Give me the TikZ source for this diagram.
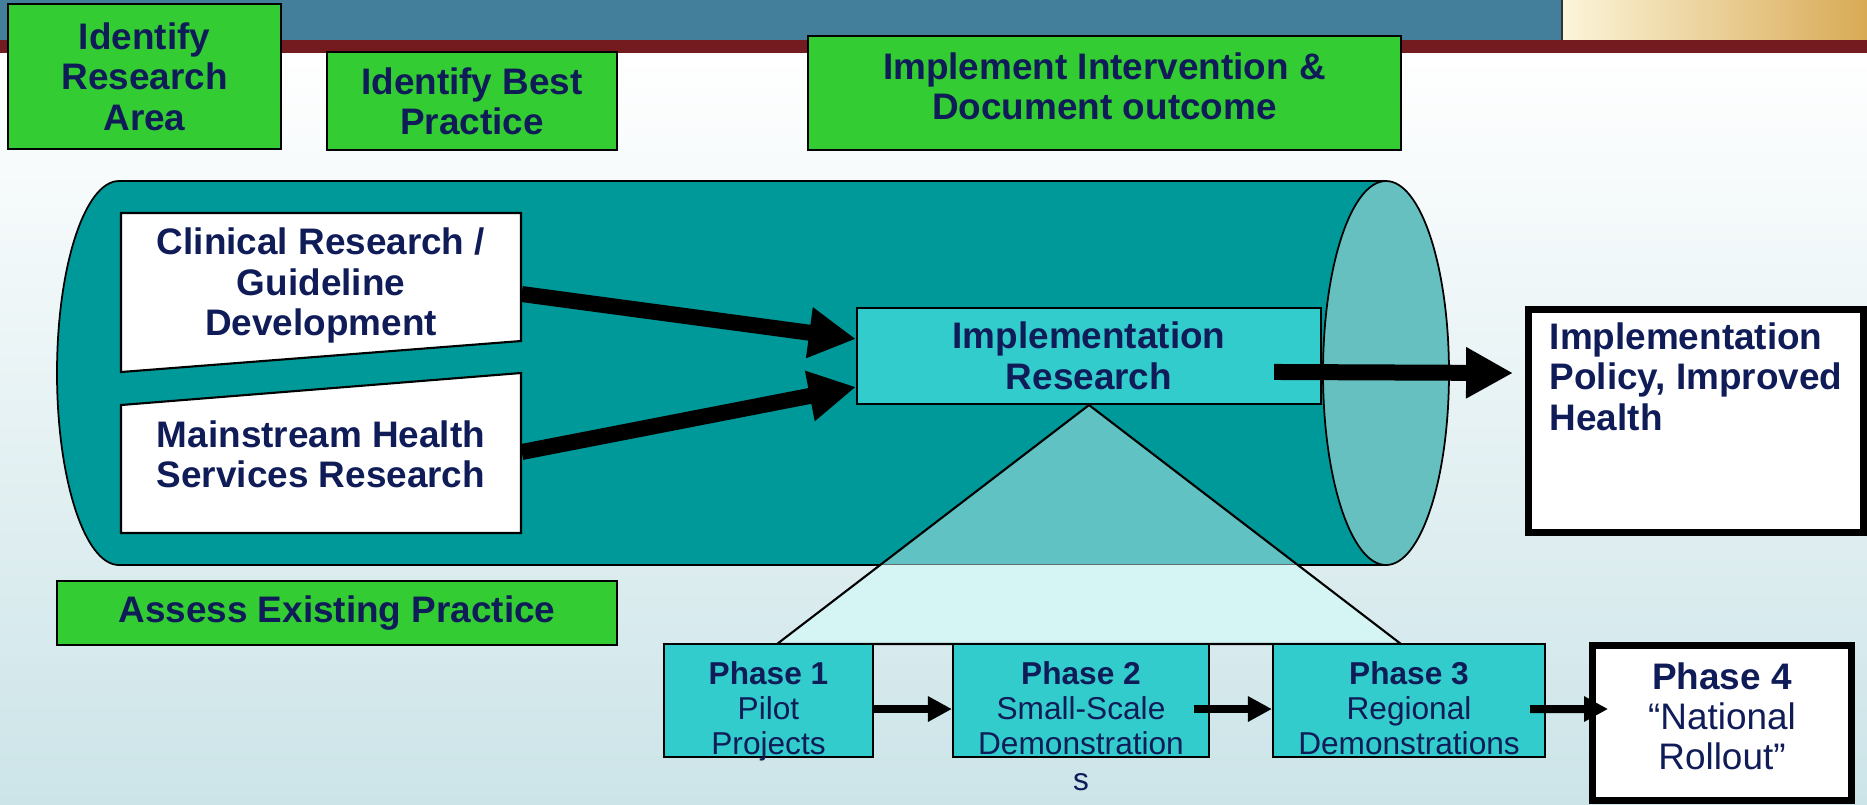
\documentclass[tikz,border=0pt]{standalone}
\usepackage{fontspec}
\setmainfont{Liberation Sans}
\usetikzlibrary{arrows.meta,calc}

\definecolor{navy}{RGB}{15,28,88}
\definecolor{bannerblue}{RGB}{67,126,154}
\definecolor{bannerred}{RGB}{115,27,31}
\definecolor{goldlight}{RGB}{252,245,218}
\definecolor{golddark}{RGB}{216,170,86}
\definecolor{bgbottom}{RGB}{204,228,232}
\definecolor{stepgreen}{RGB}{51,204,51}
\definecolor{tubeteal}{RGB}{0,153,153}
\definecolor{capteal}{RGB}{102,192,192}
\definecolor{boxcyan}{RGB}{51,204,204}
\definecolor{funnellight}{RGB}{213,245,245}

\begin{document}
\begin{tikzpicture}[
		x=1cm, y=-1cm,
		greenbox/.style={draw=black, line width=0.5pt, fill=stepgreen, text=navy, align=center, font=\fontsize{10.5}{11.5}\selectfont\bfseries},
		greentext/.style={text=navy, align=center, font=\fontsize{10.5}{11.5}\selectfont\bfseries},
		research/.style={draw=black, line width=0.6pt, fill=boxcyan, text=navy, align=center, minimum width=4.64cm, minimum height=0.96cm, font=\fontsize{10.5}{11.5}\selectfont\bfseries},
		boxtext/.style={text=navy, align=center, minimum width=4cm, font=\fontsize{10.5}{11.5}\selectfont\bfseries},
		phase/.style={draw=black, line width=0.6pt, fill=boxcyan, minimum height=1.13cm},
		phasetext/.style={anchor=north, inner sep=0pt, text=navy, align=center, font=\fontsize{9}{10}\selectfont},
		result/.style={draw=black, line width=2.1pt, fill=white},
		bigarrow/.style={line width=0.16cm, -{Triangle[length=4.7mm, width=4.8mm]}},
		smallarrow/.style={line width=0.08cm, -{Triangle[length=2.4mm, width=2.4mm]}}
		]
		\useasboundingbox (0,0) rectangle (18.67,8.04);
		
		% Slide banner and background
		\fill[bannerblue] (0,0) rectangle (15.62,0.40);
		\shade[left color=goldlight, right color=golddark] (15.62,0) rectangle (18.67,0.40);
		\draw[black!80, line width=0.6pt] (15.62,0) -- (15.62,0.40);
		\fill[bannerred] (0,0.40) rectangle (18.67,0.53);
		\shade[top color=white, bottom color=bgbottom] (0,0.53) rectangle (18.67,8.04);
		
		% Step boxes
		\node[greenbox, minimum width=2.73cm, minimum height=1.45cm] (area) at (1.445,0.765) {Identify\\Research\\Area};
		\node[greenbox, minimum width=2.90cm, minimum height=0.98cm] (practice) at (4.72,1.01) {Identify Best\\Practice};
		\node[greenbox, minimum width=5.93cm, minimum height=1.14cm] (intervention) at (11.045,0.93) {};
		\node[greentext] (interventiontext) at (11.045,0.865) {Implement Intervention \&\\Document outcome};
		\node[greenbox, minimum width=5.60cm, minimum height=0.64cm] (assess) at (3.37,6.13) {Assess Existing Practice};
		
		% Pipeline
		\draw[line width=0.5pt, fill=tubeteal] (1.19,1.81) -- (13.86,1.81) -- (13.86,5.65) -- (1.19,5.65) arc[start angle=90, end angle=270, x radius=0.62, y radius=1.92] -- cycle;
		\draw[line width=0.5pt, fill=capteal] (13.86,3.73) ellipse[x radius=0.63, y radius=1.92];
		
		% Funnel down to the phases
		\coordinate (apex) at (10.89,4.05);
		\coordinate (baseleft) at (7.77,6.44);
		\coordinate (baseright) at (14.01,6.44);
		\coordinate (rimleft) at ($(apex)!0.67!(baseleft)$);
		\coordinate (rimright) at ($(apex)!0.67!(baseright)$);
		\fill[funnellight, fill opacity=0.45] (apex) -- (rimleft) -- (rimright) -- cycle;
		\fill[funnellight] (rimleft) -- (baseleft) -- (baseright) -- (rimright) -- cycle;
		\draw[line width=0.6pt] (apex) -- (baseleft) -- (baseright) -- cycle;
		
		\node[research, anchor=south] (implres) at (apex) {Implementation\\Research};
		
		% Research sources
		\draw[line width=0.6pt, fill=white] (1.21,2.13) -- (5.21,2.13) -- (5.21,3.41) -- (1.21,3.72) -- cycle;
		\draw[line width=0.6pt, fill=white] (1.21,4.05) -- (5.21,3.73) -- (5.21,5.33) -- (1.21,5.33) -- cycle;
		\node[boxtext] (clinical) at (3.21,2.855) {Clinical Research /\\Guideline\\Development};
		\node[boxtext] (mainstream) at (3.21,4.54) {Mainstream Health\\Services Research};
		
		\draw[bigarrow] ($(clinical.east)+(0,0.085)$) -- ($(implres.west)+(0,-0.17)$);
		\draw[bigarrow] ($(mainstream.east)+(0,-0.02)$) -- ($(implres.west)+(0,0.31)$);
		
		% Result
		\node[result, minimum width=3.345cm, minimum height=2.225cm] (policy) at (16.96,4.21) {};
		\node[anchor=north west, inner sep=0pt, align=left, text=navy, font=\fontsize{10.5}{11.5}\selectfont\bfseries] (policytext) at ($(policy.north west)+(0.24,0.16)$) {Implementation\\Policy, Improved\\Health};
		\draw[bigarrow] ($(implres.east)+(-0.48,0.16)$) -- ($(policy.west)+(-0.12,-0.48)$);
		
		% Phases
		\foreach \i/\x/\w/\txt in {1/7.685/2.09cm/{\textbf{Phase 1}\\Pilot\\Projects}, 2/10.81/2.56cm/{\textbf{Phase 2}\\Small-Scale\\Demonstration\\s}, 3/14.09/2.72cm/{\textbf{Phase 3}\\Regional\\Demonstrations}}
		{
			\node[phase, minimum width=\w] (p\i) at (\x,7.005) {};
			\node[phasetext] (t\i) at ($(p\i.north)+(0,0.18)$) {\txt};
		}
		\node[result, minimum width=2.585cm, minimum height=1.545cm] (p4) at (17.22,7.23) {};
		\node[phasetext, font=\fontsize{10.5}{11.4}\selectfont] (t4) at ($(p4.north)+(0,0.20)$) {\textbf{Phase 4}\\“National\\Rollout”};
		
		\foreach \i/\j/\s/\e/\h in {1/2/0/0/0.085, 2/3/-0.16/0/0.085, 3/4/-0.16/0.19/-0.14}
		{
			\draw[smallarrow] ($(p\i.east)+(\s,0.085)$) -- ($(p\j.west)+(\e,\h)$);
		}
		
	\end{tikzpicture}
\end{document}
